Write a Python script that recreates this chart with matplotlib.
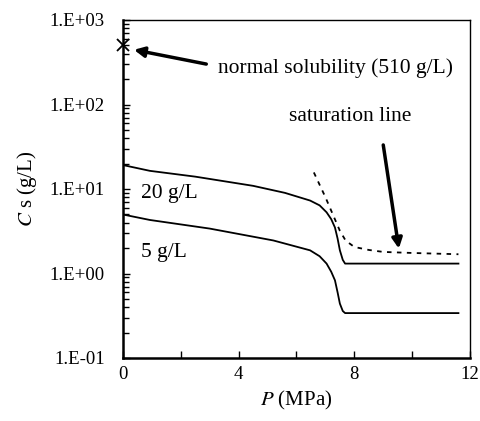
import matplotlib
matplotlib.use("Agg")
import matplotlib.pyplot as plt
from matplotlib.ticker import LogLocator, FixedLocator, NullFormatter

plt.rcParams['font.family'] = ['Liberation Serif', 'DejaVu Serif']
plt.rcParams['mathtext.fontset'] = 'stix'

p_20 = [0, 0.93, 2.5, 4.5, 5.6, 6.47, 6.8, 7.04, 7.2, 7.33, 7.42, 7.5, 7.6, 7.68, 11.6]
cs_20 = [19.2, 16.4, 14.0, 10.9, 9.0, 7.3, 6.4, 5.3, 4.4, 3.5, 2.6, 1.88, 1.45, 1.31, 1.31]

p_5 = [0, 0.93, 3, 5.2, 6.47, 6.8, 7.04, 7.2, 7.33, 7.42, 7.5, 7.6, 7.68, 11.6]
cs_5 = [4.99, 4.3, 3.4, 2.46, 1.88, 1.6, 1.31, 1.05, 0.83, 0.6, 0.44, 0.36, 0.34, 0.34]

p_sat = [6.6, 7.0, 7.5, 7.7, 8.0, 8.5, 9.0, 10.0, 11.6]
cs_sat = [15.7, 8.0, 3.2, 2.45, 2.06, 1.9, 1.8, 1.75, 1.69]

normal_p = [0]
normal_cs = [510]

x_ticks = [0, 4, 8, 12]
y_ticks = [0.1, 1, 10, 100, 1000]
y_tick_labels = ["1.E-01", "1.E+00", "1.E+01", "1.E+02", "1.E+03"]

fig = plt.figure(figsize=(4.81, 4.21), dpi=100)
ax = fig.add_axes([123/481, 1 - 358/421, (470-123)/481, (358-20)/421])

ax.plot(p_20, cs_20, color='black', lw=1.3)
ax.plot(p_5, cs_5, color='black', lw=1.3)
ax.plot(p_sat, cs_sat, color='black', lw=1.3, linestyle=(0, (2.5, 3)))
ax.plot(normal_p, normal_cs, marker='x', color='black', ms=9, mew=1.3, clip_on=False)

ax.set_yscale('log')
ax.set_xlim(0, 12)
ax.set_ylim(0.1, 1000)
ax.set_xticks(x_ticks)
ax.xaxis.set_minor_locator(FixedLocator([2, 6, 10]))
ax.set_yticks(y_ticks)
ax.set_yticklabels(y_tick_labels)
ax.yaxis.set_minor_locator(LogLocator(base=10, subs=range(2, 10)))
ax.yaxis.set_minor_formatter(NullFormatter())
ax.tick_params(which='both', direction='in', length=5, width=1, labelsize=13.5)
ax.tick_params(axis='y', which='minor', length=4)
ax.tick_params(axis='y', which='major', pad=13)
ax.tick_params(axis='x', which='major', pad=6)

for s in ['left', 'bottom']:
    ax.spines[s].set_linewidth(1.8)
for s in ['top', 'right']:
    ax.spines[s].set_linewidth(1.0)

ax.set_xlabel(r'$P$ (MPa)', fontsize=15, labelpad=4)
ax.set_ylabel(r'$C$ s (g/L)', fontsize=15, labelpad=8)

ax.text(3.29, 270, 'normal solubility (510 g/L)', fontsize=15.5, va='center', ha='left')
ax.text(5.74, 73, 'saturation line', fontsize=15.5, va='center', ha='left')
ax.text(0.63, 8.9, '20 g/L', fontsize=15.5, va='center', ha='left')
ax.text(0.63, 1.75, '5 g/L', fontsize=15.5, va='center', ha='left')

ax.annotate('', xy=(0.38, 444), xytext=(2.88, 301),
            arrowprops=dict(arrowstyle='-|>', color='black', lw=2.5, mutation_scale=15, shrinkA=0, shrinkB=0))
ax.annotate('', xy=(9.54, 1.97), xytext=(9.0, 33.2),
            arrowprops=dict(arrowstyle='-|>', color='black', lw=2.5, mutation_scale=15, shrinkA=0, shrinkB=0))

fig.savefig('out.png', dpi=100)
